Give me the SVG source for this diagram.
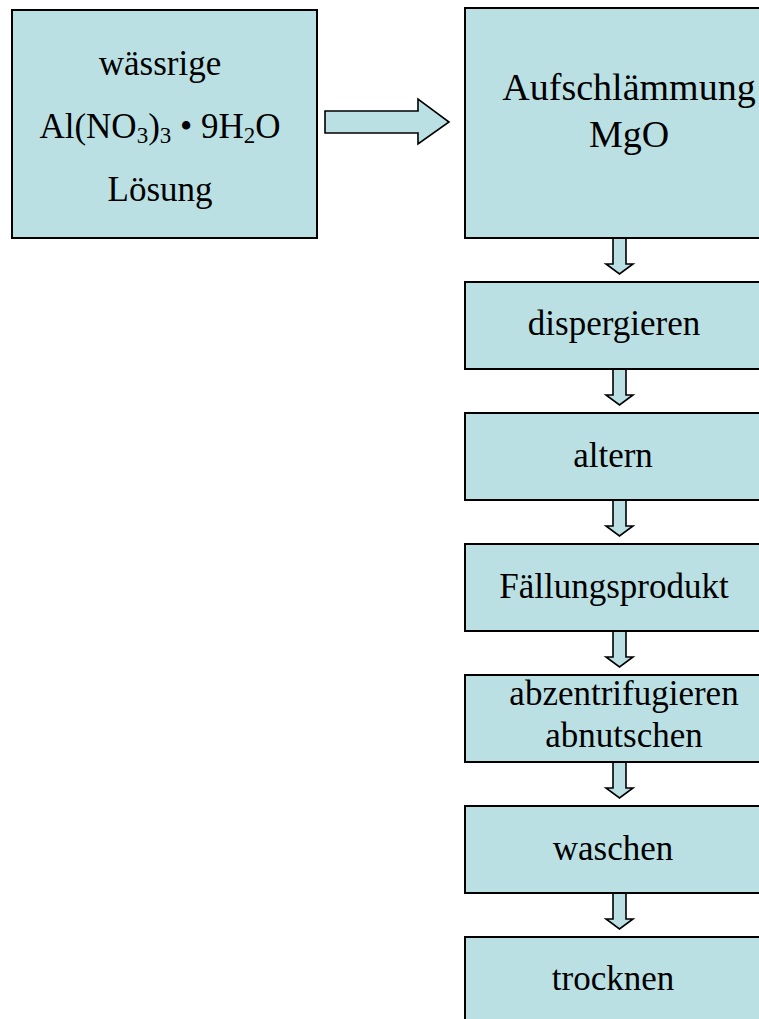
<svg xmlns="http://www.w3.org/2000/svg" width="759" height="1019" viewBox="0 0 759 1019">
<style>
.box{fill:#bbe0e3;stroke:#000;stroke-width:2}
.arr{fill:#bbe0e3;stroke:#000;stroke-width:1.6;stroke-linejoin:miter}
text{font-family:"Liberation Serif","Times New Roman",serif;fill:#000;text-anchor:middle;font-size:35px}
.big{font-size:38px}
.sub{font-size:23px}
</style>
<rect width="759" height="1019" fill="#fff"/>
<g id="connectors">
<path class="arr" d="M325,111 L418,111 L418,99 L449,122 L418,144 L418,133 L325,133 Z"/>
<path class="arr" d="M613,238 L626,238 L626,264 L633,264 L619.5,274 L606,264 L613,264 Z"/>
<path class="arr" d="M613,369 L626,369 L626,395 L633,395 L619.5,405 L606,395 L613,395 Z"/>
<path class="arr" d="M613,500 L626,500 L626,526 L633,526 L619.5,536 L606,526 L613,526 Z"/>
<path class="arr" d="M613,631 L626,631 L626,657 L633,657 L619.5,667 L606,657 L613,657 Z"/>
<path class="arr" d="M613,762 L626,762 L626,788 L633,788 L619.5,798 L606,788 L613,788 Z"/>
<path class="arr" d="M613,893 L626,893 L626,919 L633,919 L619.5,929 L606,919 L613,919 Z"/>
</g>
<g id="n_loesung">
<rect class="box" x="12" y="10" width="305" height="228"/>
<text x="160" y="75">wässrige</text>
<text x="160" y="138">Al(NO<tspan class="sub" dy="5">3</tspan><tspan dy="-5">)</tspan><tspan class="sub" dy="5">3</tspan><tspan dy="-5"> • 9H</tspan><tspan class="sub" dy="5">2</tspan><tspan dy="-5">O</tspan></text>
<text x="160" y="201">Lösung</text>
</g>
<g id="n_aufschl">
<rect class="box" x="465" y="8" width="330" height="230"/>
<text class="big" x="629" y="100">Aufschlämmung</text>
<text class="big" x="629" y="147">MgO</text>
</g>
<g id="n_disp">
<rect class="box" x="465" y="282" width="296" height="87"/>
<text x="614" y="335">dispergieren</text>
</g>
<g id="n_altern">
<rect class="box" x="465" y="413" width="296" height="87"/>
<text x="613" y="467">altern</text>
</g>
<g id="n_faell">
<rect class="box" x="465" y="544" width="296" height="87"/>
<text x="614" y="598">Fällungsprodukt</text>
</g>
<g id="n_abz">
<rect class="box" x="465" y="675" width="296" height="87"/>
<text x="624" y="705">abzentrifugieren</text>
<text x="624" y="747">abnutschen</text>
</g>
<g id="n_wasch">
<rect class="box" x="465" y="806" width="296" height="87"/>
<text x="613" y="860">waschen</text>
</g>
<g id="n_trock">
<rect class="box" x="465" y="937" width="296" height="100"/>
<text x="613" y="990">trocknen</text>
</g>
</svg>
